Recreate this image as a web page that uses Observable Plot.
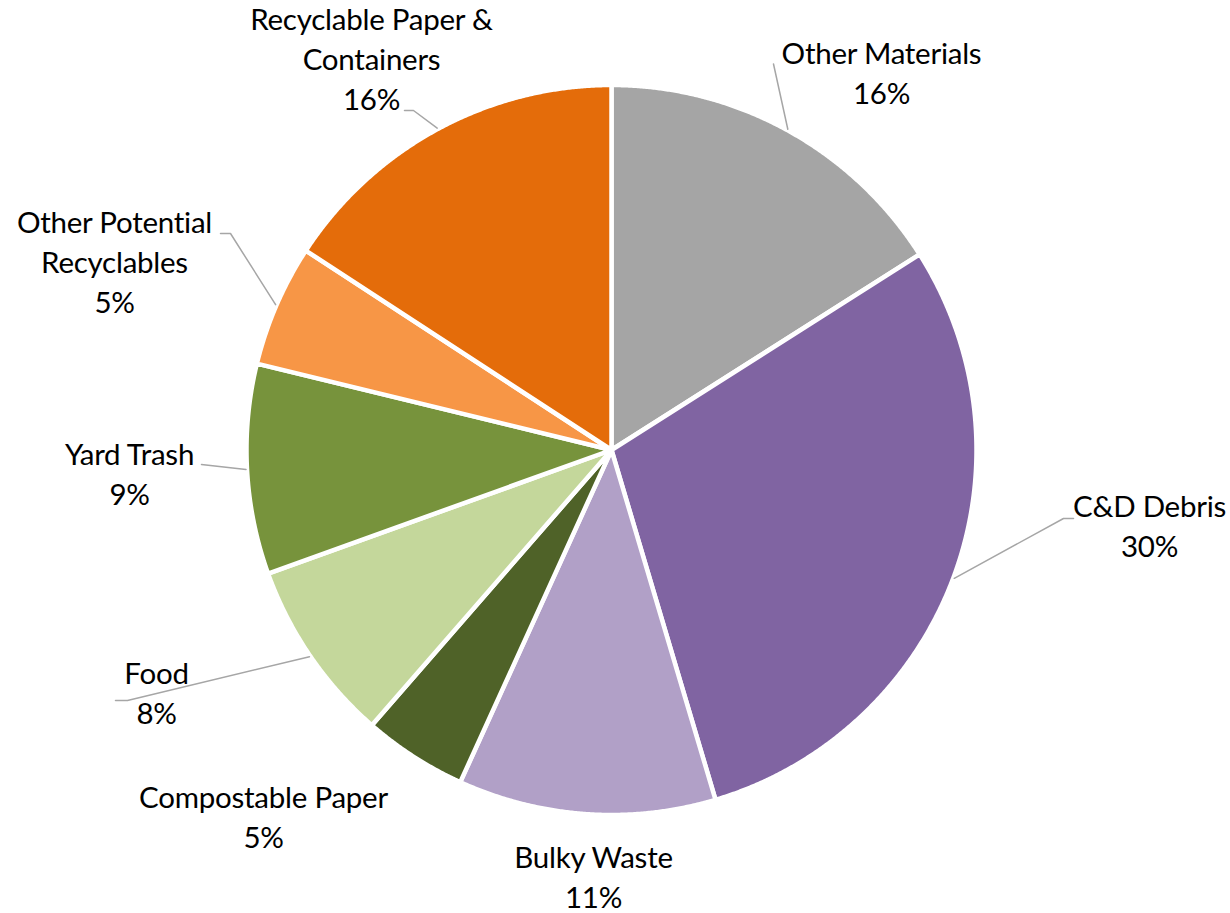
<!DOCTYPE html>
<html>
<head>
<meta charset="utf-8">
<script src="https://cdn.jsdelivr.net/npm/d3@7"></script>
<script src="https://cdn.jsdelivr.net/npm/@observablehq/plot@0.6"></script>
<style>
  html, body { margin: 0; padding: 0; background: #ffffff; }
  #chart svg { display: block; }
  #chart svg text { letter-spacing: -0.25px; }
</style>
</head>
<body>
<div id="chart"></div>
<script>
// ---- Data ----
const categories = [
  "Other Materials",
  "C&D Debris",
  "Bulky Waste",
  "Compostable Paper",
  "Food",
  "Yard Trash",
  "Other Potential Recyclables",
  "Recyclable Paper & Containers"
];
const values = [16.0, 29.4, 11.4, 4.6, 8.1, 9.3, 5.4, 15.8];
const percentLabels = ["16%", "30%", "11%", "5%", "8%", "9%", "5%", "16%"];
const labelLines = [
  ["Other Materials"],
  ["C&D Debris"],
  ["Bulky Waste"],
  ["Compostable Paper"],
  ["Food"],
  ["Yard Trash"],
  ["Other Potential", "Recyclables"],
  ["Recyclable Paper &", "Containers"]
];
const colors = ["#A5A5A5", "#8064A2", "#B1A0C7", "#4F6228", "#C4D79B", "#77933C", "#F79646", "#E46C0A"];

// ---- Layout (chart units relative to pie centre, y downward) ----
const W = 1230, H = 913;
const CX = 611, CY = 449.5, R = 365;
// label block: centre x and first baseline y (relative to pie centre)
const labelLayout = [
  {x: 270, y: -386},
  {x: 538, y: 67},
  {x: -18, y: 418},
  {x: -348, y: 358},
  {x: -455, y: 234},
  {x: -482, y: 15},
  {x: -497, y: -217},
  {x: -240, y: -420}
];
// leader line end (elbow) and horizontal tail (relative to centre)
const leaderLayout = [
  {ex: 162, ey: -386, tail: 0},
  {ex: 452, ey: 68.5, tail: 10},
  null,
  null,
  {ex: -484, ey: 250.5, tail: -12},
  {ex: -410, ey: 14.5, tail: 0},
  {ex: -381, ey: -216.5, tail: -10},
  {ex: -198, ey: -339.5, tail: -9}
];

// ---- Build slices with d3.pie ----
const pie = d3.pie().sort(null).value(d => d.value)(
  categories.map((c, i) => ({name: c, value: values[i], color: colors[i]}))
);
const toXY = (a, r) => [r * Math.sin(a), -r * Math.cos(a)];

const slicePts = [];
pie.forEach(p => {
  const n = Math.max(8, Math.ceil((p.endAngle - p.startAngle) / 0.004));
  slicePts.push({name: p.data.name, color: p.data.color, x: 0, y: 0});
  for (let k = 0; k <= n; k++) {
    const a = p.startAngle + (p.endAngle - p.startAngle) * k / n;
    const [x, y] = toXY(a, R);
    slicePts.push({name: p.data.name, color: p.data.color, x, y});
  }
  slicePts.push({name: p.data.name, color: p.data.color, x: 0, y: 0});
});

// leader lines: from slice mid-angle at the rim to the elbow, then a short tail
const leaderPts = [];
pie.forEach((p, i) => {
  const L = leaderLayout[i];
  if (!L) return;
  const mid = (p.startAngle + p.endAngle) / 2;
  const [sx, sy] = toXY(mid, R + 1);
  leaderPts.push({name: p.data.name, x: sx, y: sy});
  leaderPts.push({name: p.data.name, x: L.ex, y: L.ey});
  if (L.tail) leaderPts.push({name: p.data.name, x: L.ex + L.tail, y: L.ey});
});

// label texts
const LINE = 40;
const textRows = [];
pie.forEach((p, i) => {
  const lines = labelLines[i].concat([percentLabels[i]]);
  lines.forEach((t, j) => {
    textRows.push({text: t, x: labelLayout[i].x, y: labelLayout[i].y + j * LINE});
  });
});

const chart = Plot.plot({
  width: W,
  height: H,
  margin: 0,
  x: {domain: [-CX, W - CX], range: [0, W], axis: null},
  y: {domain: [-CY, H - CY], range: [0, H], axis: null},
  color: {type: "identity"},
  style: {background: "#ffffff", overflow: "visible"},
  marks: [
    Plot.line(slicePts, {
      x: "x", y: "y", z: "name", fill: "color",
      stroke: "#ffffff", strokeWidth: 4.5, strokeLinejoin: "round", curve: "linear"
    }),
    Plot.line(leaderPts, {
      x: "x", y: "y", z: "name", stroke: "#A6A6A6", strokeWidth: 1.5
    }),
    Plot.text(textRows, {
      x: "x", y: "y", text: "text",
      fontSize: 29.5, fontFamily: "Lato, 'Noto Sans', sans-serif",
      fill: "#000000", textAnchor: "middle", lineAnchor: "bottom", dy: 0
    })
  ]
});
document.getElementById("chart").appendChild(chart);
</script>
</body>
</html>
